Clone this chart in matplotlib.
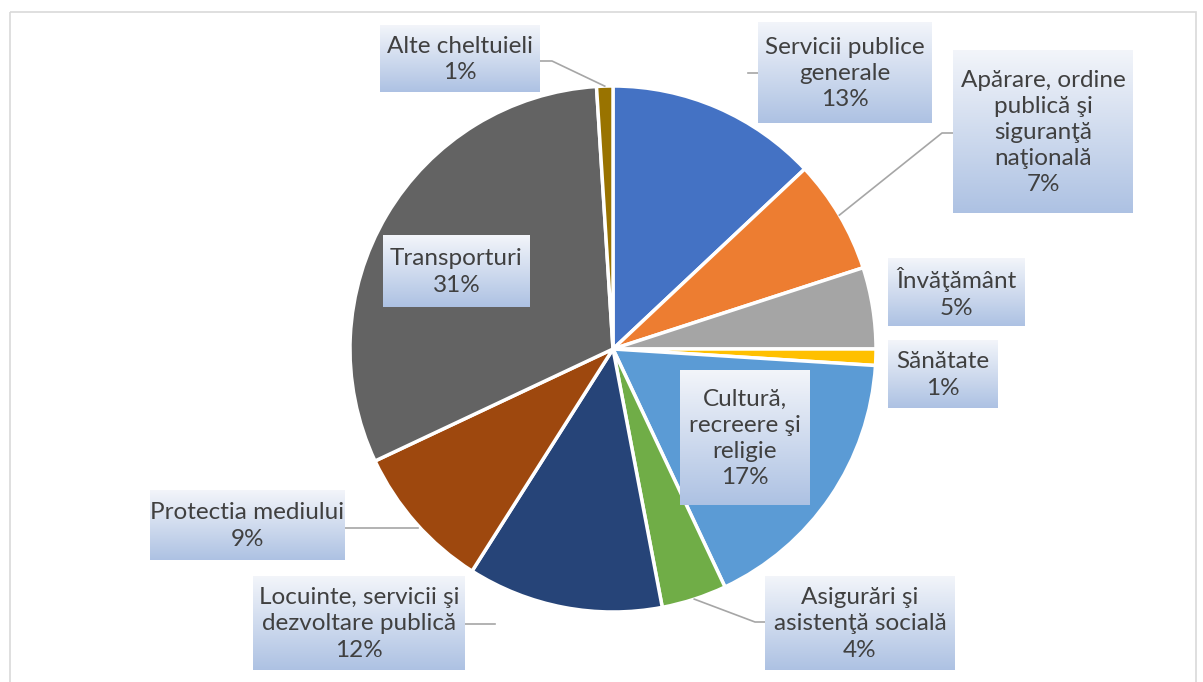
import numpy as np
import matplotlib.pyplot as plt

# data
categories = [
    "Servicii publice\ngenerale",
    "Apărare, ordine\npublică şi\nsiguranţă\nnaţională",
    "Învăţământ",
    "Sănătate",
    "Cultură,\nrecreere şi\nreligie",
    "Asigurări şi\nasistenţă socială",
    "Locuinte, servicii şi\ndezvoltare publică",
    "Protectia mediului",
    "Transporturi",
    "Alte cheltuieli",
]
shares = [13, 7, 5, 1, 17, 4, 12, 9, 31, 1]
colors = ["#4472C4", "#ED7D31", "#A5A5A5", "#FFC000", "#5B9BD5",
          "#70AD47", "#264478", "#9E480E", "#636363", "#997300"]

# layout (pixel coords, y down)
W, H = 1203, 682
cx, cy, R = 613, 349, 263
# label boxes: x0, y0, x1, y1
boxes = [
    (758, 22, 932, 123),
    (953, 50, 1133, 213),
    (888, 258, 1025, 326),
    (888, 340, 998, 408),
    (680, 370, 810, 505),
    (765, 576, 955, 670),
    (253, 576, 465, 670),
    (150, 490, 345, 560),
    (383, 235, 530, 307),
    (380, 25, 540, 92),
]

plt.rcParams["font.family"] = ["Lato", "DejaVu Sans"]

fig = plt.figure(figsize=(W / 100, H / 100), dpi=100)
ax = fig.add_axes([0, 0, 1, 1])

wedges, _ = ax.pie(shares, colors=colors, startangle=-90, counterclock=True,
                   center=(cx, cy), radius=R,
                   wedgeprops=dict(edgecolor="white", linewidth=2.5))

# outer frame
ax.add_patch(plt.Rectangle((10, 12), 1186, 672, fill=False, edgecolor="#d9d9d9", lw=1.2, zorder=0))


def edge_point(w):
    mid = np.deg2rad((w.theta1 + w.theta2) / 2)
    return cx + R * np.cos(mid), cy + R * np.sin(mid)


# leader lines
lc = "#a6a6a6"
px, py = edge_point(wedges[9])
ax.plot([540, 552, px], [61, 61, py], color=lc, lw=1.2, zorder=1)
ax.plot([748, 758], [73, 73], color=lc, lw=1.2, zorder=1)
px, py = edge_point(wedges[1])
ax.plot([953, 942, px], [133, 133, py], color=lc, lw=1.2, zorder=1)
px, py = edge_point(wedges[5])
ax.plot([765, 755, px], [622, 622, py], color=lc, lw=1.2, zorder=1)
ax.plot([465, 495], [624, 624], color=lc, lw=1.2, zorder=1)
ax.plot([345, 418], [528, 528], color=lc, lw=1.2, zorder=1)

# gradient label boxes
grad = np.linspace(0, 1, 100)[:, None]
top = np.array([0.95, 0.96, 0.98])
bot = np.array([0.68, 0.76, 0.89])
img = top[None, None, :] * (1 - grad[:, :, None]) + bot[None, None, :] * grad[:, :, None]

for name, val, (x0, y0, x1, y1) in zip(categories, shares, boxes):
    ax.imshow(img, extent=(x0, x1, y1, y0), aspect="auto", zorder=3, interpolation="bilinear")
    ax.text((x0 + x1) / 2, (y0 + y1) / 2 + 1, f"{name}\n{val}%", ha="center", va="center",
            fontsize=17.5, color="#404040", linespacing=1.3, zorder=4)

ax.set_xlim(0, W)
ax.set_ylim(H, 0)
ax.set_aspect("auto")
ax.axis("off")

fig.savefig("out.png", dpi=100, facecolor="white")
